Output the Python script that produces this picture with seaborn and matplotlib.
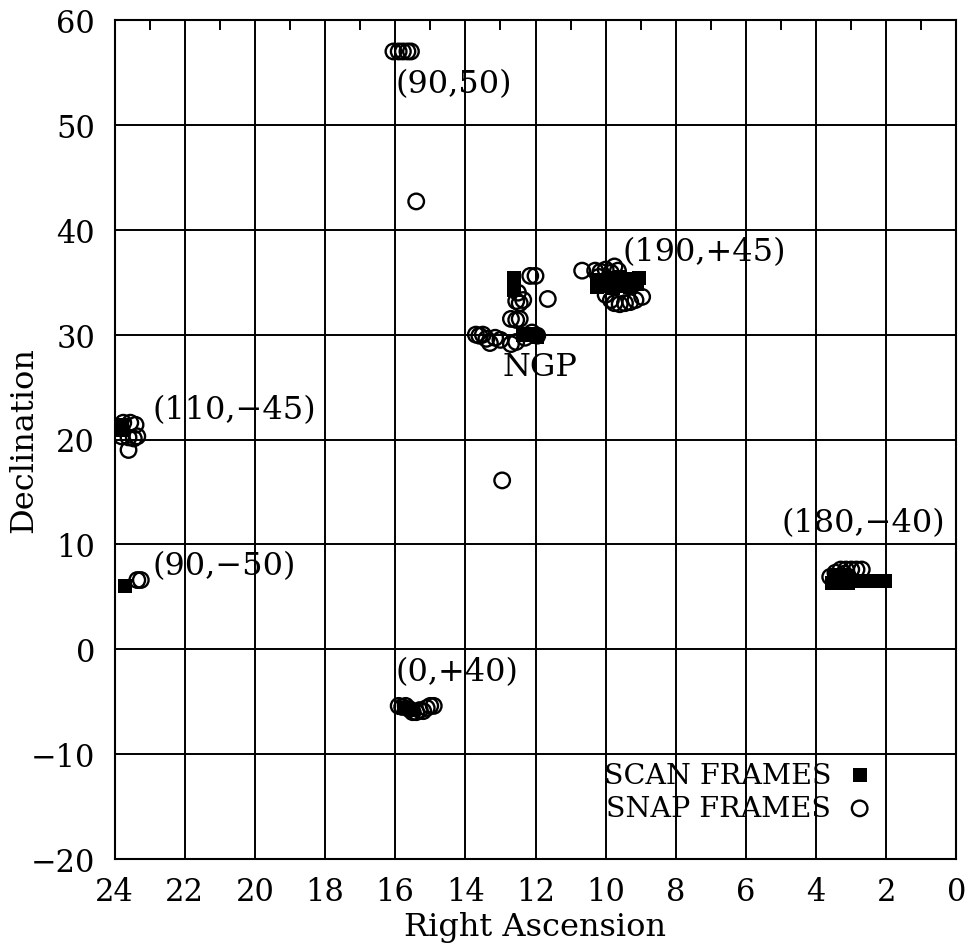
import matplotlib
matplotlib.use("Agg")
import matplotlib.pyplot as plt
import numpy as np
import pandas as pd
import seaborn as sns

# ---- data (RA in hours, Dec in degrees) ----
scan_ra = [12.6, 12.6, 12.62, 12.6, 12.35, 12.2, 12.05, 11.95,
           10.25, 10.1, 9.95, 9.8, 9.65, 9.5, 9.35, 9.2, 9.05, 9.9, 9.6,
           10.25, 10.0, 9.8, 9.5, 9.3, 9.1,
           23.8, 23.8,
           23.7,
           3.55, 3.4, 3.25, 3.1, 3.0, 3.5, 3.3, 3.1, 2.65, 2.45, 2.25, 2.05,
           15.75, 15.5]
scan_dec = [35.4, 35.0, 34.6, 34.3, 30.0, 30.1, 30.0, 29.8,
            34.5, 34.7, 34.6, 34.9, 35.0, 35.1, 35.2, 35.3, 35.4, 35.4, 35.5,
            35.2, 35.0, 34.4, 34.6, 34.5, 34.8,
            21.4, 20.9,
            6.0,
            6.3, 6.3, 6.3, 6.3, 6.5, 7.0, 7.1, 7.0, 6.5, 6.5, 6.5, 6.5,
            -5.6, -5.8]

snap_ra = [16.05, 15.9, 15.78, 15.65, 15.55, 15.4,
           12.15, 12.0, 11.65, 12.55, 12.45, 12.35, 12.7, 12.55, 12.45, 12.5,
           13.7, 13.6, 13.5, 13.4, 13.3, 13.15, 13.0, 12.7, 12.55, 12.3, 12.1, 11.95,
           12.95,
           10.67, 10.3, 10.15, 10.0, 9.85, 9.75, 9.65, 10.2, 9.5,
           10.0, 9.85, 9.75, 9.6, 9.45, 9.3, 9.15, 8.96,
           23.75, 23.55, 23.4, 23.8, 23.6, 23.45, 23.35, 23.6,
           23.35, 23.25,
           3.6, 3.45, 3.3, 3.15, 3.0, 2.85, 2.7, 3.2,
           15.9, 15.8, 15.7, 15.6, 15.5, 15.4, 15.3, 15.2, 15.1, 15.0, 14.9]
snap_dec = [57.0, 57.0, 57.0, 57.0, 57.0, 42.7,
            35.6, 35.6, 33.4, 33.2, 33.0, 33.3, 31.5, 31.4, 31.5, 34.0,
            30.0, 29.9, 30.0, 29.6, 29.2, 29.7, 29.5, 29.1, 29.3, 29.7, 30.2, 29.9,
            16.1,
            36.1, 36.1, 36.0, 36.2, 35.9, 36.5, 36.1, 35.5, 35.0,
            33.8, 33.3, 33.0, 32.9, 33.0, 33.1, 33.3, 33.6,
            21.6, 21.6, 21.4, 20.3, 20.2, 20.1, 20.3, 19.0,
            6.6, 6.6,
            6.9, 7.3, 7.6, 7.6, 7.6, 7.6, 7.6, 7.2,
            -5.4, -5.5, -5.4, -5.7, -6.0, -6.0, -5.8, -5.9, -5.6, -5.4, -5.4]

field_labels = ["(90,50)", "NGP", "(190,+45)", "(110,\u221245)",
                "(90,\u221250)", "(180,\u221240)", "(0,+40)"]
label_ra = [15.98, 12.95, 9.53, 22.93, 22.93, 5.0, 15.98]
label_dec = [53.9, 27.0, 37.9, 22.9, 7.95, 12.1, -2.15]

x_ticks = list(range(0, 25, 2))
x_minor = list(range(1, 24, 2))
y_ticks = list(range(-20, 61, 10))

# ---- style ----
sns.set_theme(style="white")
plt.rcParams["font.family"] = ["DejaVu Serif", "DejaVu Sans"]
for k in ["text.color", "axes.labelcolor", "xtick.color", "ytick.color", "axes.edgecolor"]:
    plt.rcParams[k] = "black"

FS_TICK = 22
FS_TEXT = 23
FS_LEG = 20.5

fig = plt.figure(figsize=(9.65, 9.45), dpi=100)
ax = fig.add_axes([114.5 / 965, 1 - 860 / 945, 842 / 965, 839 / 945])

scan_df = pd.DataFrame({"ra": scan_ra, "dec": scan_dec})
snap_df = pd.DataFrame({"ra": snap_ra, "dec": snap_dec})

sns.scatterplot(data=scan_df, x="ra", y="dec", marker="s", color="black",
                s=100, linewidth=0, label="SCAN FRAMES", ax=ax, zorder=3)
sns.scatterplot(data=snap_df, x="ra", y="dec", marker="o", facecolor="none",
                edgecolor="black", s=125, linewidth=1.7, label="SNAP FRAMES",
                ax=ax, zorder=4)

ax.set_xlim(24, 0)
ax.set_ylim(-20, 60)
ax.set_xticks(x_ticks)
ax.set_xticks(x_minor, minor=True)
ax.set_yticks(y_ticks)
ax.grid(True, which="major", color="black", linewidth=1.4)
ax.set_axisbelow(True)
for sp in ax.spines.values():
    sp.set_visible(True)
    sp.set_linewidth(1.5)
    sp.set_color("black")

ax.tick_params(axis="both", which="both", direction="in", top=True, right=False,
               labelsize=FS_TICK)
ax.tick_params(axis="x", which="major", length=0, pad=12)
ax.tick_params(axis="x", which="minor", length=7, width=1.4)
ax.tick_params(axis="y", which="major", length=0, pad=14)

ax.set_xlabel("Right Ascension", fontsize=FS_TEXT, va="center")
ax.set_ylabel("Declination", fontsize=FS_TEXT, va="center", ha="center")
ax.xaxis.set_label_coords(0.5, -0.0799)
ax.yaxis.set_label_coords(-0.1075, 0.5)

for lab, r, d in zip(field_labels, label_ra, label_dec):
    ax.text(r, d, lab, fontsize=FS_TEXT, ha="left", va="center", zorder=5)

ax.legend(loc="center right", bbox_to_anchor=(0.8985, 0.0802), markerfirst=False,
          frameon=False, handlelength=0.8, handletextpad=0.6, labelspacing=0.22,
          borderaxespad=0, borderpad=0, fontsize=FS_LEG)

fig.savefig("out.png", dpi=100)
